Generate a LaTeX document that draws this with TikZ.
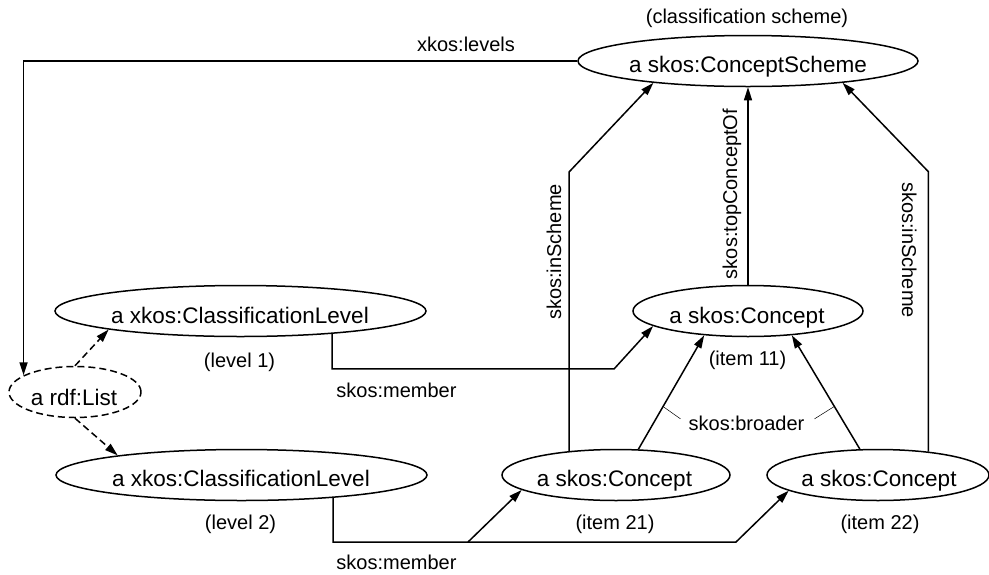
\documentclass[tikz,border=0pt]{standalone}
\usepackage{fontspec}
\setmainfont{Liberation Sans}
\usetikzlibrary{shapes.geometric,arrows.meta}
\begin{document}
\begin{tikzpicture}[x=1pt,y=-1pt,
  ell/.style={draw,ellipse,line width=1.5pt,inner sep=0pt,minimum height=51pt},
  dashell/.style={ell,dash pattern=on 7pt off 4pt},
  nodetext/.style={anchor=base,inner sep=0pt,font=\fontsize{22.5}{27}\selectfont},
  lbl/.style={anchor=base,inner sep=0pt,font=\fontsize{20}{24}\selectfont},
  link/.style={line width=1.5pt,-{Triangle[length=13pt,width=8pt]}},
  dashlink/.style={link,dash pattern=on 7pt off 4pt},
  leader/.style={line width=0.5pt}]
\useasboundingbox (0,0) rectangle (989,574);

% scheme
\node[ell,minimum width=340pt] (cs) at (748,61) {};
\node[nodetext] (cst) at (748,72) {a skos:ConceptScheme};
\node[lbl] (csl) at (747,23) {(classification scheme)};

% levels and the list
\node[ell,minimum width=371pt] (cl1) at (240.5,311) {};
\node[nodetext] (cl1t) at (240,323) {a xkos:ClassificationLevel};
\node[lbl] (cl1l) at (239.5,367) {(level 1)};

\node[dashell,minimum width=132pt] (lst) at (75,392) {};
\node[nodetext] (lstt) at (74,405) {a rdf:List};

\node[ell,minimum width=371pt] (cl2) at (241.5,475) {};
\node[nodetext] (cl2t) at (241,486) {a xkos:ClassificationLevel};
\node[lbl] (cl2l) at (240.5,529) {(level 2)};

% concepts
\node[ell,minimum width=230pt] (c11) at (748,311) {};
\node[nodetext] (c11t) at (747,323) {a skos:Concept};
\node[lbl] (c11l) at (747.5,365) {(item 11)};

\node[ell,minimum width=228pt] (c21) at (616,475) {};
\node[nodetext] (c21t) at (614.5,486) {a skos:Concept};
\node[lbl] (c21l) at (615,529) {(item 21)};

\node[ell,minimum width=222pt] (c22) at (878,475) {};
\node[nodetext] (c22t) at (879,486) {a skos:Concept};
\node[lbl] (c22l) at (880,529) {(item 22)};

% xkos:levels
\draw[link] (cs.west) -| (lst.162);
\node[lbl] (lvl) at (466,51) {xkos:levels};

% list items
\draw[dashlink] (lst.north) -- (cl1.188);
\draw[dashlink] (lst.south) -- (cl2.171);

% skos:member
\draw[link] (cl1.346) |- ++(282,35) -- (c11.189);
\node[lbl] (mem1) at (396.5,397) {skos:member};

\coordinate (fork) at (468,542);
\draw[link] (cl2.346) |- (fork) -- ++(268,0) -- (c22.190);
\draw[link] (fork) -- (c21.189);
\node[lbl] (mem2) at (396.5,569) {skos:member};

% skos:inScheme and skos:topConceptOf
\draw[link] (c21.153) -- ++(0,-279) -- (cs.193);
\node[lbl,rotate=90] (ins1) at (561,252) {skos:inScheme};

\draw[link] (c11.north) -- (cs.south);
\node[lbl,rotate=90] (top) at (737,194) {skos:topConceptOf};

\draw[link] (c22.25) -- ++(0,-280) -- (cs.347);
\node[lbl,rotate=-90] (ins2) at (902,250) {skos:inScheme};

% skos:broader
\draw[link] (c21.49) -- coordinate[pos=0.375] (bl) (c11.209);
\draw[link] (c22.125) -- coordinate[pos=0.375] (br2) (c11.331);
\node[lbl] (brl) at (746.5,430) {skos:broader};
\draw[leader] ([shift={(-8,-4)}]brl.west) -- (bl);
\draw[leader] ([shift={(10,-4)}]brl.east) -- (br2);
\end{tikzpicture}
\end{document}
